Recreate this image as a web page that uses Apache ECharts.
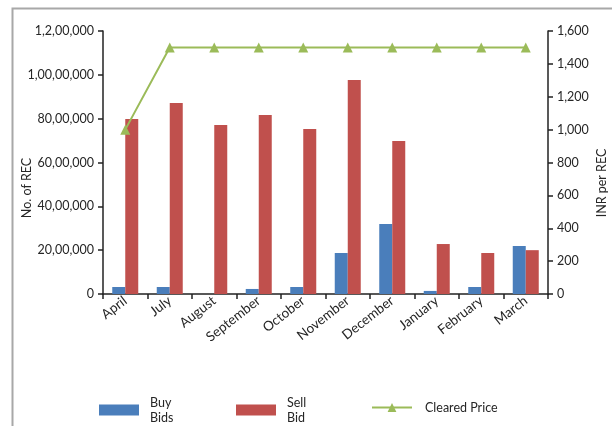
<!DOCTYPE html>
<html>
<head>
<meta charset="utf-8">
<script src="https://cdn.jsdelivr.net/npm/echarts@6/dist/echarts.min.js"></script>
<style>html,body{margin:0;padding:0;background:#fff}#c{width:612px;height:426px}</style>
</head>
<body>
<div id="c"></div>
<script>
var months = ['April','July','August','September','October','November','December','January','February','March'];
var buyBids = [320000, 320000, 0, 230000, 320000, 1870000, 3190000, 140000, 320000, 2190000];
var sellBids = [7980000, 8710000, 7710000, 8170000, 7530000, 9760000, 6980000, 2280000, 1870000, 2000000];
var clearedPrice = [1000, 1500, 1500, 1500, 1500, 1500, 1500, 1500, 1500, 1500];
var leftTickLabels = ['0','20,00,000','40,00,000','60,00,000','80,00,000','1,00,00,000','1,2,00,000'];
var rightTickLabels = ['0','200','400','600','800','1,000','1,200','1,400','1,600'];

var FONT = 'Lato';
var TXT = '#262626';
var chart = echarts.init(document.getElementById('c'), null, {renderer:'canvas'});
var axisLine = {show:true, lineStyle:{color:'#222', width:1.5}};
var axisTick = {show:true, length:5, lineStyle:{color:'#222', width:1.5}};
chart.setOption({
  animation:false,
  textStyle:{fontFamily:FONT, color:TXT},
  grid:{left:103, right:64, top:31, bottom:132, containLabel:false},
  xAxis:{type:'category', data:months, boundaryGap:true,
    axisLine:axisLine, axisTick:axisTick,
    axisLabel:{rotate:38, fontSize:13.5, color:TXT, fontFamily:FONT, margin:5, interval:0}},
  yAxis:[
    {type:'value', min:0, max:12000000, interval:2000000, position:'left',
      splitLine:{show:false}, axisLine:axisLine, axisTick:axisTick,
      axisLabel:{fontSize:12.5, color:TXT, fontFamily:FONT, margin:9,
        formatter:function(v){return leftTickLabels[Math.round(v/2000000)];}}},
    {type:'value', min:0, max:1600, interval:200, position:'right',
      splitLine:{show:false}, axisLine:axisLine, axisTick:axisTick,
      axisLabel:{fontSize:12.5, color:TXT, fontFamily:FONT, margin:9,
        formatter:function(v){return rightTickLabels[Math.round(v/200)];}}}
  ],
  legend:[
    {data:['Buy Bids'], left:99, top:395, padding:0, itemWidth:40, itemHeight:11, icon:'rect',
      formatter:function(){return 'Buy\nBids';},
      textStyle:{fontSize:12.5, color:TXT, fontFamily:FONT, lineHeight:15, padding:[0,0,0,6]}},
    {data:['Sell Bid'], left:236, top:395, padding:0, itemWidth:40, itemHeight:11, icon:'rect',
      formatter:function(){return 'Sell\nBid';},
      textStyle:{fontSize:12.5, color:TXT, fontFamily:FONT, lineHeight:15, padding:[0,0,0,6]}},
    {data:['Cleared Price'], left:371, top:401, padding:0, itemWidth:40, itemHeight:11,
      textStyle:{fontSize:12.5, color:TXT, fontFamily:FONT, padding:[0,0,0,8]}}
  ],
  graphic:[
    {type:'rect', left:10, top:6, shape:{width:700, height:500}, style:{fill:'none', stroke:'#a8a8a8', lineWidth:2}, silent:true, z:-10},
    {type:'text', x:27, y:188, rotation:Math.PI/2, style:{text:'No. of REC', fontSize:12.5, fontFamily:FONT, fill:TXT, align:'center', verticalAlign:'middle'}},
    {type:'text', x:602, y:183, rotation:Math.PI/2, style:{text:'INR per REC', fontSize:12.5, fontFamily:FONT, fill:TXT, align:'center', verticalAlign:'middle'}}
  ],
  series:[
    {name:'Buy Bids', type:'bar', data:buyBids, barWidth:13, barGap:'0%', itemStyle:{color:'#4a7ebb'}},
    {name:'Sell Bid', type:'bar', data:sellBids, barWidth:13, barGap:'0%', itemStyle:{color:'#c0504d'}},
    {name:'Cleared Price', type:'line', yAxisIndex:1, data:clearedPrice, symbol:'triangle', symbolSize:10,
      lineStyle:{color:'#9bbb59', width:2}, itemStyle:{color:'#9bbb59'}}
  ]
});
</script>
</body>
</html>
